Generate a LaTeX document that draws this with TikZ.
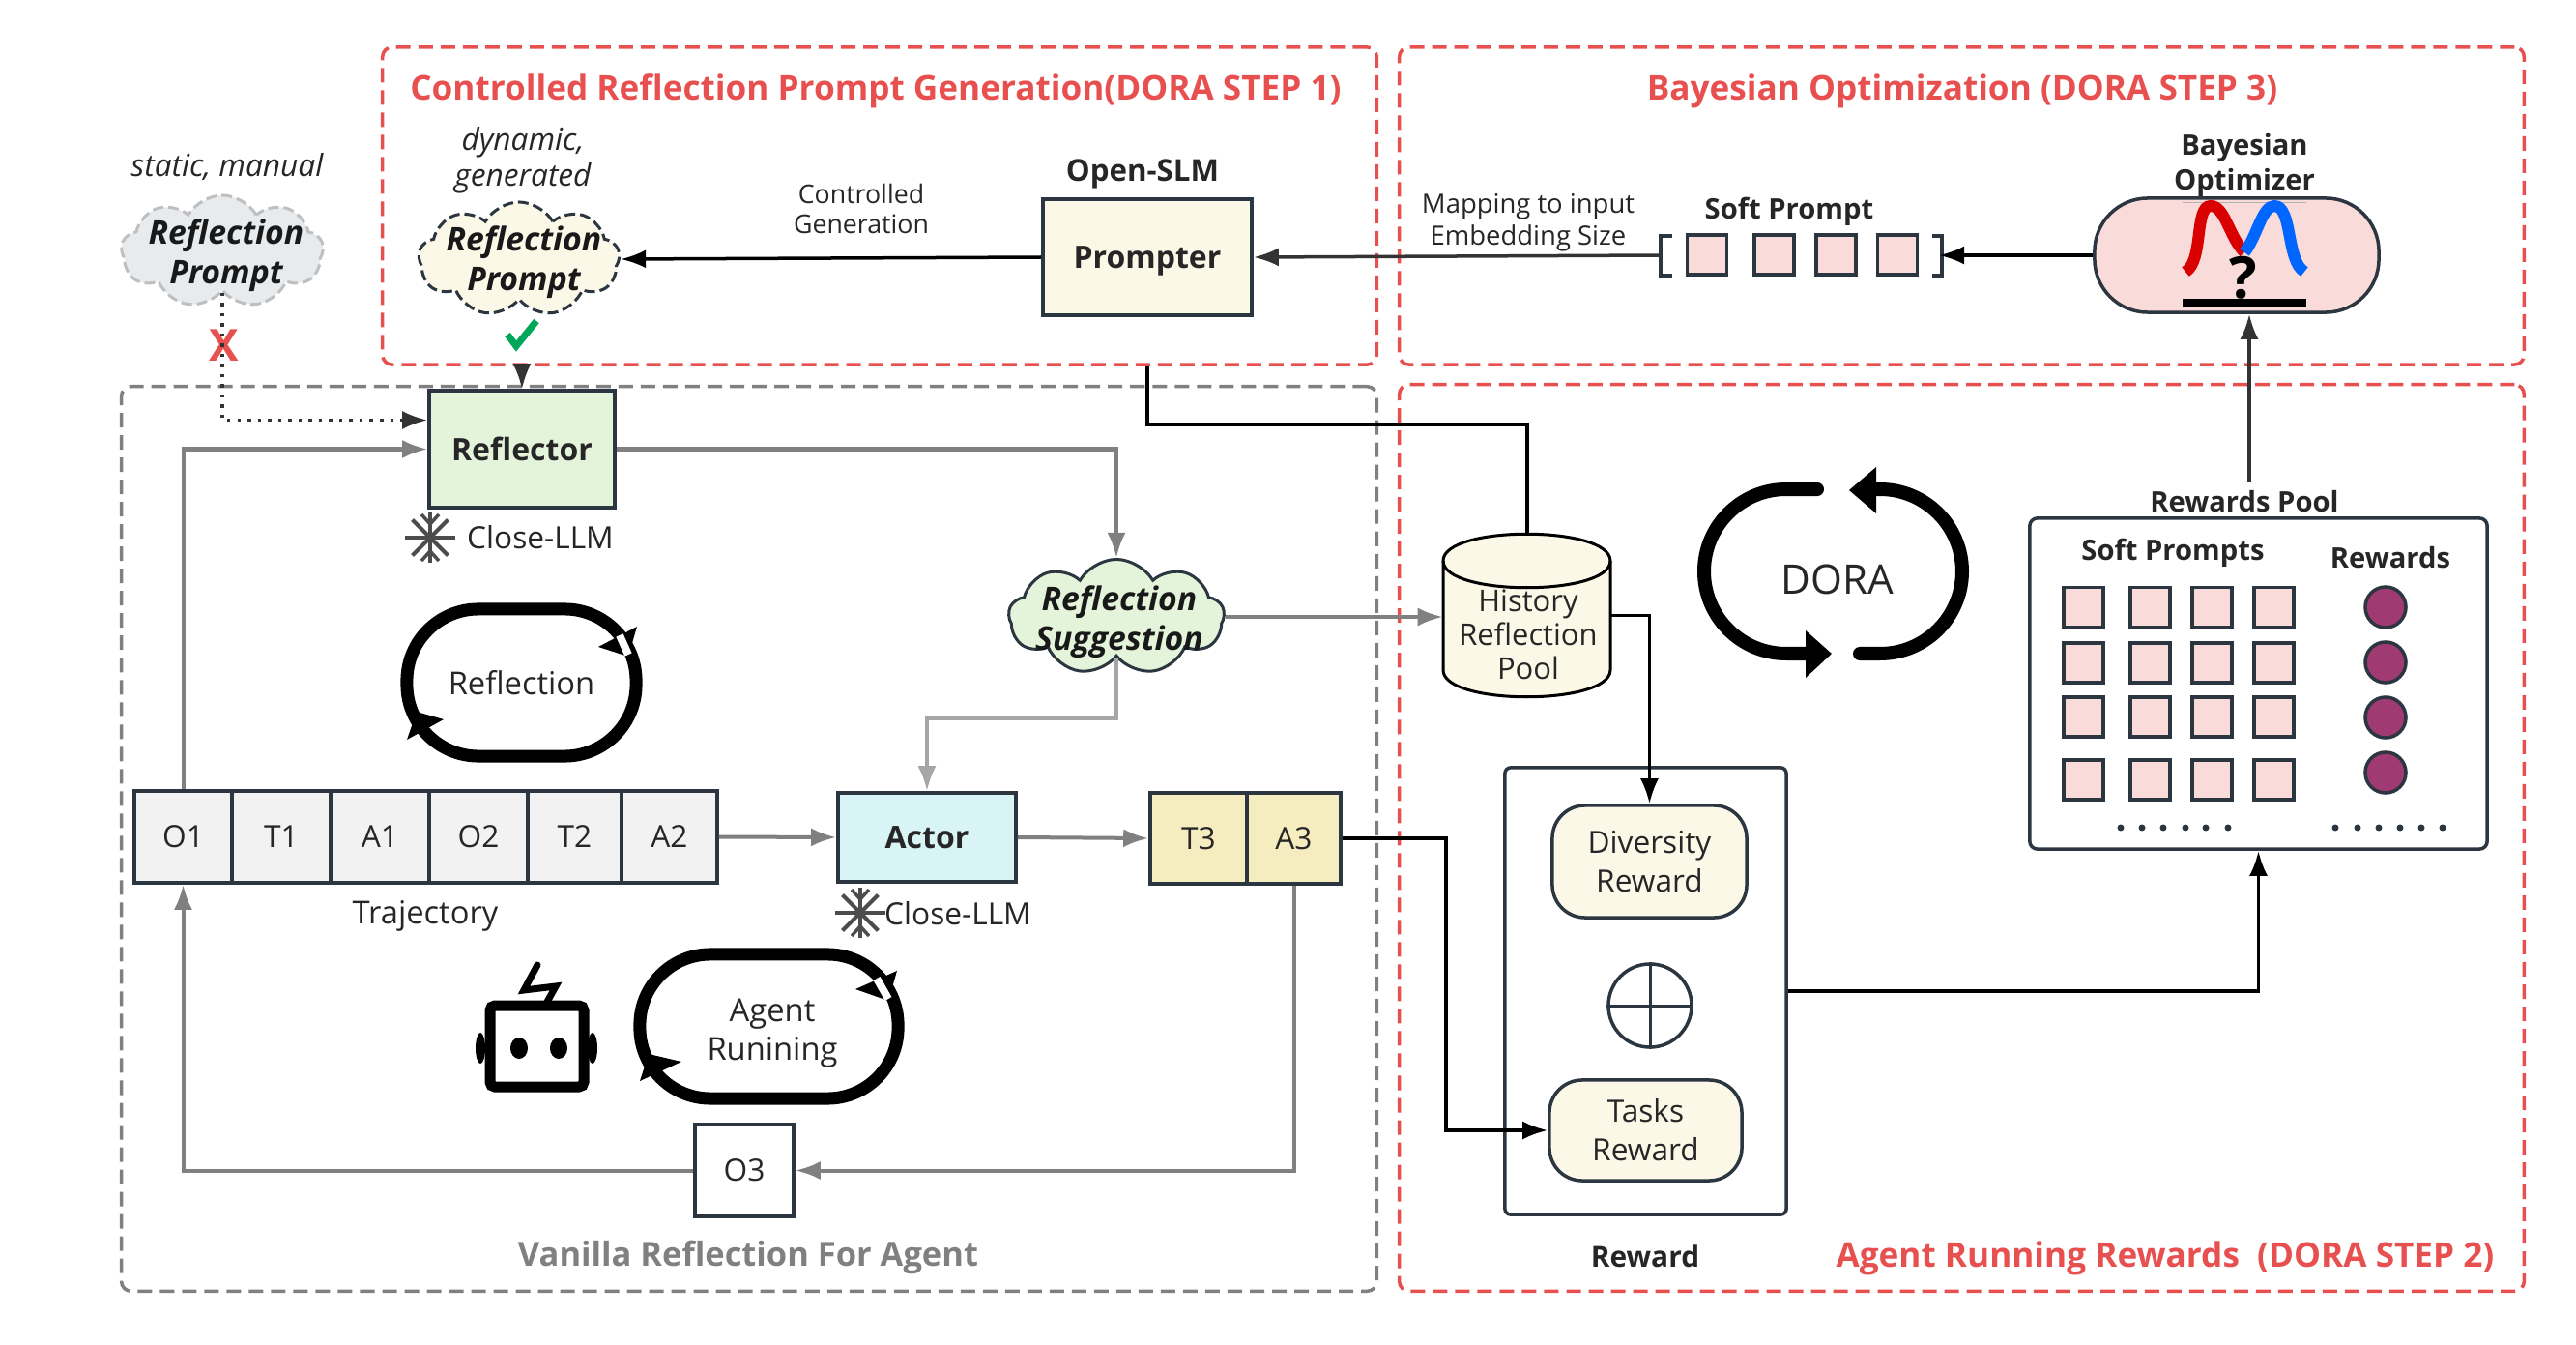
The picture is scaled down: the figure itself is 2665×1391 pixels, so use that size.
\documentclass[tikz,border=0pt]{standalone}
\usepackage{fontspec}
\setmainfont{Open Sans}
\usetikzlibrary{positioning,arrows.meta,shapes.symbols}

\definecolor{dorared}{HTML}{E85050}
\definecolor{darkline}{HTML}{2B3640}
\definecolor{softpink}{HTML}{F9DCDA}
\definecolor{softcream}{HTML}{FBF8E8}
\definecolor{softgreen}{HTML}{E4F4DA}
\definecolor{softgray}{HTML}{E8EBEE}
\definecolor{softcyan}{HTML}{D9F4F5}
\definecolor{softyellow}{HTML}{F5ECC0}
\definecolor{cellgray}{HTML}{F2F2F2}
\definecolor{rewardplum}{HTML}{A03A72}
\definecolor{checkgreen}{HTML}{00A65A}

\tikzset{
  redframe/.style={draw=dorared,line width=0.035cm,dash pattern=on 0.15cm off 0.08cm,rounded corners=0.1cm,inner sep=0pt},
  grayframe/.style={draw=gray,line width=0.035cm,dash pattern=on 0.15cm off 0.08cm,rounded corners=0.1cm,inner sep=0pt},
  boxnode/.style={draw=darkline,line width=0.035cm,inner sep=0pt,align=center,text=black!85},
  softcell/.style={boxnode,fill=softpink,minimum width=0.41cm,minimum height=0.41cm},
  rewarddot/.style={boxnode,circle,fill=rewardplum,minimum size=0.42cm},
  dotmark/.style={circle,fill=darkline,inner sep=0pt,minimum size=0.07cm},
  cloudnode/.style={cloud,cloud puffs=9,cloud puff arc=120,aspect=1.7,inner sep=0pt,line width=0.03cm},
  cloudtxt/.style={align=center,inner sep=0pt,text=black!90,font=\fontsize{9.6}{11.5}\selectfont\bfseries\itshape},
  cloudash/.style={dash pattern=on 0.11cm off 0.05cm},
  plaintxt/.style={align=center,inner sep=0pt,text=black!85,font=\fontsize{9.3}{11.4}\selectfont},
  boldtxt/.style={align=center,inner sep=0pt,text=black!85,font=\fontsize{8.3}{10.2}\selectfont\bfseries},
  boxtxt/.style={font=\fontsize{9.1}{11}\selectfont\bfseries,text depth=0pt},
  redtxt/.style={inner sep=0pt,text=dorared,font=\fontsize{10}{12}\selectfont\bfseries},
  blackline/.style={draw=black,line width=0.035cm},
  blackarrow/.style={blackline,-{Latex[length=0.26cm,width=0.19cm]}},
  grayline/.style={draw=gray,line width=0.04cm,-{Latex[length=0.26cm,width=0.19cm]}},
  flake/.pic={
    \foreach \ang in {0,45,90,135}
      \draw[black!70,line width=0.04cm] (\ang:0.26cm) -- (\ang+180:0.26cm);
    \draw[black!70,line width=0.035cm] (-0.09cm,0.24cm) -- (0,0.14cm) -- (0.09cm,0.24cm);
    \draw[black!70,line width=0.035cm] (-0.09cm,-0.24cm) -- (0,-0.14cm) -- (0.09cm,-0.24cm);
  }
}

\begin{document}
\begin{tikzpicture}[x=0.01cm,y=-0.01cm]
\useasboundingbox (0,0) rectangle (2665,1391);

% Dashed frames
\node[redframe,minimum width=10.28cm,minimum height=3.28cm] (stepone) at (910,213) {};
\node[redframe,minimum width=11.63cm,minimum height=3.28cm] (stepthree) at (2029.5,213) {};
\node[redframe,minimum width=11.63cm,minimum height=9.37cm] (steptwo) at (2029.5,866.5) {};
\node[grayframe,minimum width=12.98cm,minimum height=9.35cm] (vanilla) at (775,867.5) {};

\node[redtxt] (titleone) at (906,94) {Controlled Reflection Prompt Generation(DORA STEP 1)};
\node[redtxt] (titlethree) at (2030,94) {Bayesian Optimization (DORA STEP 3)};
\node[redtxt] (titletwo) at (2240,1301) {Agent Running Rewards\ \ (DORA STEP 2)};
\node[boldtxt,text=gray,font=\fontsize{9.8}{12}\selectfont\bfseries] (titlevanilla) at (774,1300) {Vanilla Reflection For Agent};

% Prompts on the left
\node[plaintxt,font=\fontsize{9}{11.4}\selectfont\itshape] (statictxt) at (235,173) {static, manual};
\node[plaintxt,font=\fontsize{9}{10.4}\selectfont\itshape] (dynamictxt) at (541,166) {dynamic,\\generated};
\node[cloudnode,draw=black!25,cloudash,fill=softgray,minimum width=2.09cm,minimum height=1.16cm] (statcloud) at (230,260) {};
\node[cloudtxt] (stattxt) at (234,264) {Reflection\\Prompt};
\node[cloudnode,draw=darkline,cloudash,fill=softcream,minimum width=2.08cm,minimum height=1.18cm] (dyncloud) at (537,268) {};
\node[cloudtxt] (dyntxt) at (542,271) {Reflection\\Prompt};
\node[inner sep=0pt,text=dorared,font=\fontsize{13}{13}\selectfont\bfseries] (crossmark) at (232,357) {X};
\draw[line width=0.07cm,draw=checkgreen,line join=miter] (525,346) -- (534,358) -- (555,332);

% Main boxes
\node[boxnode,boxtxt,fill=softgreen,minimum width=1.92cm,minimum height=1.21cm] (reflector) at (540,464.5) {Reflector};
\node[boxnode,boxtxt,fill=softcream,minimum width=2.16cm,minimum height=1.2cm] (prompter) at (1187,266) {Prompter};
\node[boxnode,boxtxt,fill=softcyan,minimum width=1.84cm,minimum height=0.92cm] (actor) at (959,866) {Actor};
\node[boldtxt,font=\fontsize{8.9}{11}\selectfont\bfseries] (openslm) at (1182,180) {Open-SLM};
\node[cloudnode,draw=darkline,fill=softgreen,minimum width=2.23cm,minimum height=1.19cm] (suggest) at (1155,638) {};
\node[cloudtxt] (suggesttxt) at (1158,643) {Reflection\\Suggestion};

\foreach \pos/\name/\wide/\disp in {{189.5/oa/1.01/O1}, {291/ta/1.02/T1}, {393/aa/1.02/A1}, {495/ob/1.02/O2}, {594.5/tb/0.97/T2}, {692.5/ab/0.99/A2}}
\node[boxnode,fill=cellgray,minimum width=\wide cm,minimum height=0.95cm,font=\fontsize{9}{11}\selectfont] (\name) at (\pos,865.5) {\disp};
\foreach \pos/\name/\wide/\disp in {{1240/tc/1.0/T3}, {1338.5/ac/0.97/A3}}
\node[boxnode,fill=softyellow,minimum width=\wide cm,minimum height=0.94cm,font=\fontsize{9}{11}\selectfont] (\name) at (\pos,867) {\disp};
\node[boxnode,minimum width=1.02cm,minimum height=0.95cm,font=\fontsize{9}{11}\selectfont] (oc) at (770,1210.5) {O3};

\node[plaintxt] (trajtxt) at (440,947) {Trajectory};
\node[plaintxt,font=\fontsize{9}{11}\selectfont] (closea) at (559,556) {Close-LLM};
\node[plaintxt,font=\fontsize{9}{11}\selectfont] (closeb) at (991,945) {Close-LLM};
\pic at (445,556) {flake};
\pic at (890,944) {flake};

% Loops
\node[draw=black,line width=0.13cm,rounded corners=0.74cm,minimum width=2.37cm,minimum height=1.52cm,plaintxt] (reflectloop) at (539.5,706) {Reflection};
\node[draw=black,line width=0.13cm,rounded corners=0.73cm,minimum width=2.67cm,minimum height=1.49cm] (agentloop) at (795.5,1061.5) {};
\node[plaintxt] (agenttxt) at (799,1069) {Agent\\Runining};
\fill[black] (421,765) -- (431,736) -- (459,744) -- cycle;
\fill[black] (619,669) -- (659,648) -- (650,679) -- cycle;
\draw[white,line width=0.08cm] (641,657) -- (650,677);
\fill[black] (662,1118) -- (671,1090) -- (705,1098) -- cycle;
\fill[black] (885,1023) -- (928,1004) -- (919,1035) -- cycle;
\draw[white,line width=0.08cm] (907,1012) -- (919,1033);

% Robot
\draw[black,line width=0.11cm,rounded corners=0.05cm] (507,1040) rectangle (604,1124);
\fill[black] (537,1084) ellipse[x radius=0.09cm,y radius=0.11cm];
\fill[black] (578,1084) ellipse[x radius=0.09cm,y radius=0.11cm];
\fill[black] (497,1084) ellipse[x radius=0.05cm,y radius=0.16cm];
\fill[black] (613,1084) ellipse[x radius=0.05cm,y radius=0.16cm];
\draw[black,line width=0.07cm,line cap=round] (556,998) -- (542,1024) -- (575,1020) -- (565,1038);

% Pool and rewards
\node[minimum width=1.73cm,minimum height=1.69cm,inner sep=0pt] (history) at (1580,636.5) {};
\draw[draw=black,line width=0.03cm,fill=softcream] (1493,580) .. controls (1493,543) and (1666,543) .. (1666,580) -- (1666,693) .. controls (1666,730) and (1493,730) .. (1493,693) -- cycle;
\draw[draw=black,line width=0.03cm] (1493,580) .. controls (1493,617) and (1666,617) .. (1666,580);
\node[plaintxt,font=\fontsize{8.8}{9.9}\selectfont] (historytxt) at (1581,656) {History\\Reflection\\Pool};
\node[boxnode,rounded corners=0.06cm,minimum width=2.91cm,minimum height=4.62cm] (reward) at (1702.5,1025) {};
\node[boxnode,fill=softcream,rounded corners=0.34cm,minimum width=2.01cm,minimum height=1.16cm,font=\fontsize{9}{11.4}\selectfont] (diversity) at (1706.5,891) {Diversity\\Reward};
\node[boxnode,fill=softcream,rounded corners=0.34cm,minimum width=1.99cm,minimum height=1.04cm,font=\fontsize{9}{11.4}\selectfont] (tasks) at (1702.5,1169) {Tasks\\Reward};
\node[boxnode,circle,minimum size=0.86cm] (oplus) at (1707,1040) {};
\draw[darkline,line width=0.03cm] (oplus.north) -- (oplus.south) (oplus.west) -- (oplus.east);
\node[boldtxt,font=\fontsize{8.5}{10.2}\selectfont\bfseries] (rewardtxt) at (1702,1299) {Reward};

% Soft prompt
\node[boldtxt] (softtxt) at (1851,219) {Soft Prompt};
\foreach \pos/\name in {{1766/cella}, {1835.5/cellb}, {1899.5/cellc}, {1963/celld}}
\node[softcell] (\name) at (\pos,263.5) {};
\draw[darkline,line width=0.035cm] (1730,244) -| (1718,285) -- (1730,285);
\draw[darkline,line width=0.035cm] (1999,244) -| (2009,285) -- (1999,285);
\coordinate (brleft) at (1718,264);
\coordinate (brright) at (2006,264);
\node[plaintxt,font=\fontsize{7.8}{9.3}\selectfont] (maptxt) at (1581,230) {Mapping to input\\Embedding Size};
\node[plaintxt,font=\fontsize{7.6}{8.9}\selectfont] (gentxt) at (891,216) {Controlled\\Generation};

% Bayesian optimizer
\node[boxnode,fill=softpink,rounded corners=0.55cm,minimum width=2.94cm,minimum height=1.18cm] (bayes) at (2314,264) {};
\node[boldtxt] (bayestxt) at (2322,171) {Bayesian\\Optimizer};
\draw[black!30,line width=0.01cm] (2258,210) -- (2386,210);
\draw[red!85!black,line width=0.12cm] (2261,281) .. controls (2280,270) and (2270,213) .. (2287,213) .. controls (2302,213) and (2306,245) .. (2322,261);
\draw[blue!60!cyan,line width=0.12cm] (2322,261) .. controls (2335,245) and (2340,213) .. (2353,213) .. controls (2372,213) and (2365,270) .. (2384,281);
\node[inner sep=0pt,font=\fontsize{17}{17}\selectfont\bfseries] (qmark) at (2321,287) {?};
\fill[black] (2258,309) rectangle (2386,317);

% Rewards pool
\node[boldtxt] (pooltxt) at (2322,519) {Rewards Pool};
\node[boxnode,rounded corners=0.08cm,minimum width=4.73cm,minimum height=3.42cm] (pool) at (2336.5,707) {};
\node[boldtxt] (softstxt) at (2248,572) {Soft Prompts};
\node[boldtxt] (rewardstxt) at (2473,577) {Rewards};
\foreach \pos/\cl in {2155.5/a, 2224.5/b, 2288.5/c, 2352.5/d}
\foreach \row/\rw in {628/1, 685.5/2, 741.5/3, 806.5/4}
\node[softcell] (sp\cl\rw) at (\pos,\row) {};
\foreach \row/\rw in {628/1, 685/2, 742/3, 799/4}
\node[rewarddot] (dot\rw) at (2468,\row) {};
\foreach \pos in {2194,2216,2238,2261,2282,2305,2416,2439,2461,2483,2505,2527}
\node[dotmark] at (\pos,856) {};

% DORA
\node[plaintxt,font=\fontsize{12}{14}\selectfont] (doratxt) at (1901,599) {DORA};
\draw[black,line width=0.14cm,line cap=round,rounded corners=0.85cm] (1880,506) -- (1763,506) -- (1763,676) -- (1870,676);
\draw[black,line width=0.14cm,line cap=round,rounded corners=0.85cm] (1924,676) -- (2030,676) -- (2030,506) -- (1935,506);
\fill[black] (1895,676) -- (1868,652) -- (1868,701) -- cycle;
\fill[black] (1913,507) -- (1941,483) -- (1941,531) -- cycle;

% Connect nodes with edges
\draw[blackarrow,draw=black!80] (reflector.north |- stepone.south) -- (reflector.north);
\draw[blackarrow,draw=black!80,dotted] (statcloud.south) |- ([yshift=0.3cm]reflector.west);
\draw[grayline] (oa.north) |- (reflector.west);
\draw[grayline] (reflector.east) -| (suggest.north);
\draw[grayline] (suggest.east) -- (suggest.east -| history.west);
\draw[grayline,draw=black!35] (suggest.south) -- ++(0,62) -| (actor.north);
\draw[grayline] (ab.east) -- (actor.west);
\draw[grayline] (actor.east) -- (tc.west);
\draw[grayline] (ac.south) |- (oc.east);
\draw[grayline] (oc.west) -| (oa.south);
\draw[blackarrow] (prompter.west) -- (dyncloud.east);
\draw[blackarrow,draw=black!80] (brleft) -- (prompter.east);
\draw[blackarrow] (bayes.west) -- (brright);
\draw[blackline] (prompter.south |- stepone.south) -- ++(0,60) -| (history.north);
\draw[blackarrow] (history.east) -| (diversity.north);
\draw[blackarrow] (ac.east) -- ++(107,0) |- (tasks.west);
\draw[blackarrow] (reward.east) -| (pool.south);
\coordinate (poolup) at (2327,498);
\draw[blackarrow,draw=black!80] (poolup) -- (poolup |- bayes.south);

\end{tikzpicture}
\end{document}
